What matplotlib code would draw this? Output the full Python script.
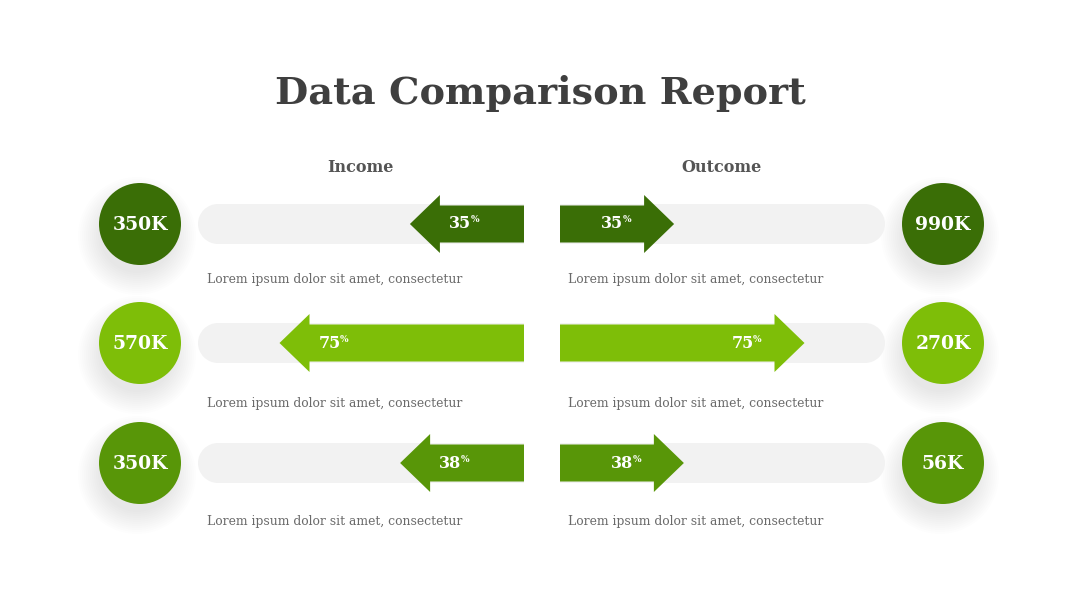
import matplotlib
matplotlib.use("Agg")
import matplotlib.pyplot as plt
from matplotlib.patches import Circle, Rectangle, Wedge, Polygon

# ---- data ----
title = "Data Comparison Report"
side_labels = ["Income", "Outcome"]
income_values = ["350K", "570K", "350K"]
outcome_values = ["990K", "270K", "56K"]
income_pct = [35, 75, 38]
outcome_pct = [35, 75, 38]
row_colors = ["#3a6e06", "#7ebe08", "#589608"]
caption = "Lorem ipsum dolor sit amet, consectetur"

W, H = 1080, 608
fig = plt.figure(figsize=(W / 100, H / 100), dpi=100)
ax = fig.add_axes([0, 0, 1, 1])
ax.set_xlim(0, W)
ax.set_ylim(H, 0)
ax.set_aspect("equal")
ax.axis("off")

SERIF = ["DejaVu Serif"]
ax.text(540, 94, title, ha="center", va="center", fontsize=27.5, fontweight="bold",
        color="#3f3f3f", family=SERIF)
ax.text(360, 168, side_labels[0], ha="center", va="center", fontsize=11.5,
        fontweight="bold", color="#555555", family=SERIF)
ax.text(721, 168, side_labels[1], ha="center", va="center", fontsize=11.5,
        fontweight="bold", color="#555555", family=SERIF)

rows_y = [224, 343, 463]
caption_dy = [55, 61, 58]
track_l0, track_l1 = 198, 524   # left track
track_r0, track_r1 = 560, 885   # right track
track_h = 40
body_h = 37
head_h = 58
head_len = 30
track_len = track_l1 - track_l0
circle_r = 41
cx_left, cx_right = 140, 943


def shadow(x, y, r):
    for i in range(12):
        rr = r - 4 + i * 2.0
        ax.add_patch(Circle((x - 3, y + 12), rr, facecolor="#000000",
                            alpha=0.007, edgecolor="none", zorder=1))


def pct_label(x, y, p):
    t = ax.text(x, y, f"{p}", ha="center", va="center", fontsize=11.5,
                fontweight="bold", color="white", family=SERIF, zorder=6)
    ax.annotate("%", xy=(1.0, 1.0), xycoords=t, xytext=(-0.5, 0),
                textcoords="offset points", ha="left", va="top", fontsize=6.5,
                fontweight="bold", color="white", family=SERIF, zorder=6)


for i, y in enumerate(rows_y):
    col = row_colors[i]
    # tracks
    ax.add_patch(Rectangle((track_l0 + track_h / 2, y - track_h / 2),
                           track_len - track_h / 2, track_h,
                           facecolor="#f2f2f2", edgecolor="none", zorder=2))
    ax.add_patch(Wedge((track_l0 + track_h / 2, y), track_h / 2, 90, 270,
                       facecolor="#f2f2f2", edgecolor="none", zorder=2))
    ax.add_patch(Rectangle((track_r0, y - track_h / 2),
                           (track_r1 - track_r0) - track_h / 2, track_h,
                           facecolor="#f2f2f2", edgecolor="none", zorder=2))
    ax.add_patch(Wedge((track_r1 - track_h / 2, y), track_h / 2, -90, 90,
                       facecolor="#f2f2f2", edgecolor="none", zorder=2))

    # left arrow (income)
    L = income_pct[i] / 100 * track_len
    tip = track_l1 - L
    base = tip + head_len
    pts = [(track_l1, y - body_h / 2), (base, y - body_h / 2), (base, y - head_h / 2),
           (tip, y), (base, y + head_h / 2), (base, y + body_h / 2), (track_l1, y + body_h / 2)]
    ax.add_patch(Polygon(pts, closed=True, facecolor=col, edgecolor="none", zorder=4))
    pct_label(tip + 50, y, income_pct[i])

    # right arrow (outcome)
    L = outcome_pct[i] / 100 * track_len
    tip = track_r0 + L
    base = tip - head_len
    pts = [(track_r0, y - body_h / 2), (base, y - body_h / 2), (base, y - head_h / 2),
           (tip, y), (base, y + head_h / 2), (base, y + body_h / 2), (track_r0, y + body_h / 2)]
    ax.add_patch(Polygon(pts, closed=True, facecolor=col, edgecolor="none", zorder=4))
    pct_label(tip - 62, y, outcome_pct[i])

    # circles
    for cx, val in ((cx_left, income_values[i]), (cx_right, outcome_values[i])):
        shadow(cx, y, circle_r)
        ax.add_patch(Circle((cx, y), circle_r, facecolor=col, edgecolor="none", zorder=3))
        ax.text(cx, y + 1, val, ha="center", va="center", fontsize=13.5,
                fontweight="bold", color="white", family=SERIF, zorder=6)

    # captions
    cy = y + caption_dy[i]
    ax.text(207, cy, caption, ha="left", va="center", fontsize=8.9,
            color="#6a6a6a", family=SERIF)
    ax.text(568, cy, caption, ha="left", va="center", fontsize=8.9,
            color="#6a6a6a", family=SERIF)

fig.savefig("out.png", dpi=100, facecolor="white")
